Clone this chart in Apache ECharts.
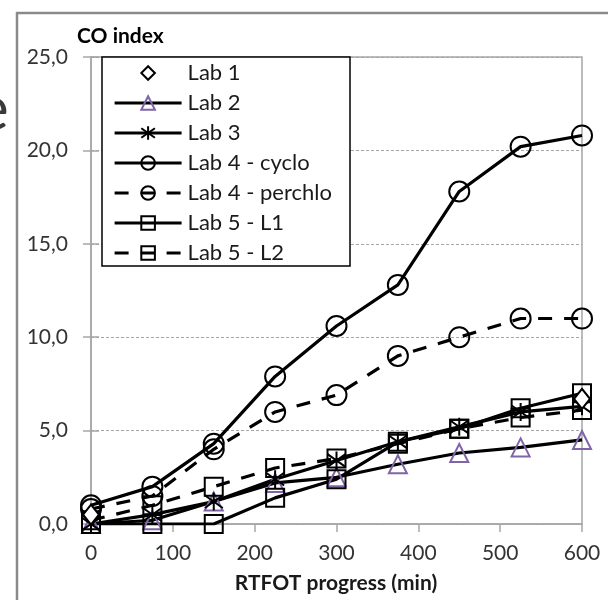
<!DOCTYPE html>
<html><head><meta charset="utf-8">
<script src="https://cdn.jsdelivr.net/npm/echarts@6/dist/echarts.min.js"></script>
<style>html,body{margin:0;padding:0;background:#fff}#c{width:608px;height:600px}</style>
</head><body><div id="c"></div>
<script>
// ---- data ----
const times = [0, 75, 150, 225, 300, 375, 450, 525, 600];
const lab1Times = [0, 600];
const lab1 = [0.5, 6.7];
const lab2 = [0, 0.2, 1.2, 2.2, 2.5, 3.2, 3.8, 4.1, 4.5];
const lab3 = [0, 0.5, 1.2, 2.4, 3.4, 4.4, 5.2, 6.0, 6.3];
const lab4cyclo = [1.0, 2.0, 4.3, 7.9, 10.6, 12.8, 17.8, 20.2, 20.8];
const lab4perchlo = [0.8, 1.5, 4.0, 6.0, 6.9, 9.0, 10.0, 11.0, 11.0];
const lab5L1 = [0, 0, 0, 1.4, 2.4, 4.4, 5.1, 6.2, 7.0];
const lab5L2 = [0.2, 1.0, 2.0, 3.0, 3.5, 4.3, 5.1, 5.7, 6.1];
const seriesNames = ['Lab 1', 'Lab 2', 'Lab 3', 'Lab 4 - cyclo', 'Lab 4 - perchlo', 'Lab 5 - L1', 'Lab 5 - L2'];
const xAxisTitle = 'RTFOT progress (min)';
const yAxisTitle = 'CO index';

const FONT = 'Lato';
const pair = (xs, ys) => xs.map((x, i) => [x, ys[i]]);
const ASTERISK = 'path://M10,0L10,20M2.93,2.93L17.07,17.07M2.93,17.07L17.07,2.93';
const NOFILL = 'rgba(255,255,255,0)';

function mk(name, xs, ys, symbol, size, opts) {
  opts = opts || {};
  return {
    name: name, type: 'line', data: pair(xs, ys),
    symbol: symbol, symbolSize: size, showSymbol: true,
    animation: false,
    lineStyle: { color: '#000', width: opts.noLine ? 0 : 3.2, type: opts.dash ? [14, 12] : 'solid', opacity: opts.noLine ? 0 : 1 },
    itemStyle: { color: opts.fill || NOFILL, borderColor: opts.stroke || '#000', borderWidth: opts.bw || 2 },
    z: opts.z || 2
  };
}

const axisGrey = '#a6a6a6';
const chart = echarts.init(document.getElementById('c'), null, { renderer: 'canvas' });
chart.setOption({
  backgroundColor: '#fff',
  textStyle: { fontFamily: FONT },
  grid: { left: 91, right: 26, top: 57, bottom: 76, show: true, borderColor: axisGrey, borderWidth: 1.5, backgroundColor: 'transparent' },
  xAxis: {
    type: 'value', min: 0, max: 600, interval: 100,
    axisLine: { show: true, lineStyle: { color: axisGrey, width: 1.5 } },
    axisTick: { show: true, length: 8, lineStyle: { color: axisGrey, width: 1.5 } },
    axisLabel: { fontFamily: FONT, fontSize: 21, color: '#333', margin: 19 },
    splitLine: { show: false }
  },
  yAxis: [{
    type: 'value', min: 0, max: 25, interval: 5,
    axisLine: { show: true, lineStyle: { color: axisGrey, width: 1.5 } },
    axisTick: { show: true, length: 8, lineStyle: { color: axisGrey, width: 1.5 } },
    axisLabel: { fontFamily: FONT, fontSize: 21, color: '#333', margin: 23, formatter: v => v.toFixed(1).replace('.', ',') },
    splitLine: { show: true, lineStyle: { color: axisGrey, width: 1, type: [3, 2] } }
  }, {
    type: 'value', min: 0, max: 25, interval: 5, position: 'left',
    axisLine: { show: false },
    axisTick: { show: true, inside: true, length: 8, lineStyle: { color: axisGrey, width: 1.5 } },
    axisLabel: { show: false },
    splitLine: { show: false }
  }],
  legend: {
    orient: 'vertical', left: 102, top: 57,
    padding: [5, 10, 5, 11],
    itemWidth: 67, itemHeight: 17, itemGap: 8,
    lineStyle: { width: 3.2 },
    textStyle: { fontFamily: FONT, fontSize: 22, color: '#1a1a1a', lineHeight: 22, padding: [0, 0, 0, 1] },
    data: seriesNames,
    z: 10,
    selectedMode: false
  },
  graphic: [
    { type: 'rect', z: 9, silent: true, shape: { x: 102, y: 57, width: 248, height: 209 }, style: { fill: '#fff', stroke: '#000', lineWidth: 1.5 } },
    { type: 'rect', z: 1, silent: true, shape: { x: 17, y: 13, width: 640, height: 640 }, style: { fill: 'none', stroke: '#8a8a8a', lineWidth: 2.5 } },
    { type: 'text', z: 11, silent: true, style: { text: 'e', x: -24, y: 110, fontFamily: FONT, fontSize: 62, fill: '#3a3a3a', textAlign: 'left', textVerticalAlign: 'middle' } },
    { type: 'text', z: 11, silent: true, style: { text: yAxisTitle, x: 77, y: 36, fontFamily: FONT, fontSize: 21, fontWeight: 'bold', fill: '#000', textAlign: 'left', textVerticalAlign: 'middle' } },
    { type: 'text', z: 11, silent: true, style: { text: xAxisTitle, x: 336, y: 583, fontFamily: FONT, fontSize: 21, fontWeight: 'bold', fill: '#1a1a1a', textAlign: 'center', textVerticalAlign: 'middle' } }
  ],
  series: [
    mk(seriesNames[0], lab1Times, lab1, 'diamond', [16, 20], { noLine: true, fill: '#fff', z: 6 }),
    mk(seriesNames[1], times, lab2, 'triangle', 18, { stroke: '#7f64a8' }),
    mk(seriesNames[2], times, lab3, ASTERISK, 18, { bw: 2 }),
    mk(seriesNames[3], times, lab4cyclo, 'circle', 20, {}),
    mk(seriesNames[4], times, lab4perchlo, 'circle', 20, { dash: true }),
    mk(seriesNames[5], times, lab5L1, 'rect', 18, {}),
    mk(seriesNames[6], times, lab5L2, 'rect', 18, { dash: true })
  ]
});
</script></body></html>
